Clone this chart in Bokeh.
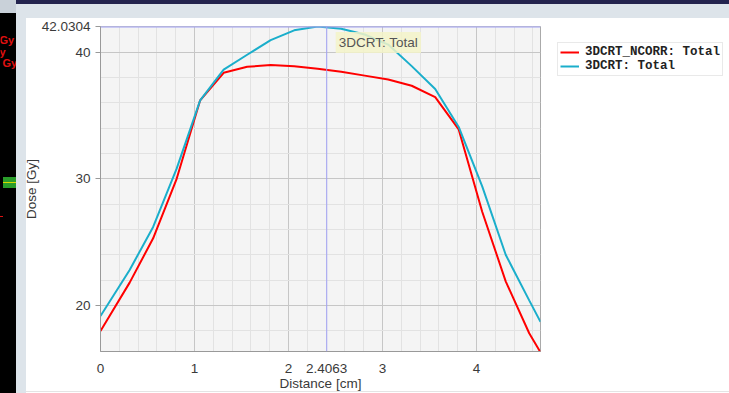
from bokeh.plotting import figure
from bokeh.models import (Range1d, FixedTicker, Span, Label, Legend, LegendItem)
from bokeh.layouts import row
from bokeh.embed import file_html
from bokeh.resources import INLINE

# ---- data ----
distance_cm = [0.0, 0.31, 0.56, 0.81, 1.06, 1.31, 1.56, 1.81, 2.06, 2.31,
               2.56, 2.81, 3.06, 3.31, 3.56, 3.81, 4.06, 4.31, 4.56, 4.68]
dose_ncorr = [17.98, 21.8, 25.3, 30.0, 36.2, 38.37, 38.85, 38.98, 38.9, 38.7,
              38.45, 38.15, 37.85, 37.35, 36.45, 33.9, 27.4, 21.9, 17.8, 16.3]
dose_3dcrt = [19.16, 22.8, 26.2, 30.8, 36.2, 38.63, 39.8, 40.95, 41.73, 42.03,
              41.85, 41.4, 40.6, 38.9, 37.1, 34.1, 29.4, 24.0, 20.4, 18.7]
series_names = ["3DCRT_NCORR: Total", "3DCRT: Total"]
series_colors = ["#ff0000", "#1aaecb"]
x_ticks = [0, 1, 2, 3, 4]
x_minor = [0.2, 0.4, 0.6, 0.8, 1.2, 1.4, 1.6, 1.8, 2.2, 2.4, 2.6, 2.8,
           3.2, 3.4, 3.6, 3.8, 4.2, 4.4, 4.6]
y_ticks = [20, 30, 40]
y_minor = [18, 22, 24, 26, 28, 32, 34, 36, 38, 42]
cross_x = 2.4063
cross_y = 42.0304
x_min, x_max = 0.0, 4.68
y_min = 16.36
side_texts = ["Gy", "y", "Gy"]   # clipped texts of the neighbouring panel

FONT = "Liberation Sans"
TXT = "#3a3a3a"


def grad(color, x, y, w, h):
    return f"linear-gradient({color},{color}) {x}px {y}px / {w}px {h}px no-repeat"


# window chrome shown behind the transparent canvas borders
chrome_strip = ", ".join([
    grad("#e01010", 0, 216, 3, 1),
    grad("#d8d800", 3, 182, 13, 1),
    grad("#2a9d2a", 3, 177, 13, 11),
    grad("#c9d1d9", 0, 0, 16, 13),
    "#000000",
])
chrome_main = ", ".join([
    grad("#23234e", 0, 0, 525, 4),
    grad("#dde4ea", 0, 4, 525, 14),
    grad("#dde4ea", 0, 18, 10, 375),
    grad("#e4e4e4", 10, 391, 515, 1),
    "#ffffff",
])
chrome_side = ", ".join([
    grad("#23234e", 0, 0, 188, 4),
    grad("#dde4ea", 0, 4, 188, 14),
    grad("#e4e4e4", 0, 391, 188, 1),
    "#ffffff",
])

# ---- narrow neighbouring strip on the left ----
s = figure(width=16, height=393, output_backend="svg", toolbar_location=None,
           x_range=Range1d(0, 16), y_range=Range1d(0, 1),
           x_axis_type=None, y_axis_type=None, min_border=0, margin=0,
           background_fill_alpha=0, border_fill_alpha=0, outline_line_color=None,
           styles={"background": chrome_strip})
s.grid.visible = False
for t, xx, yy in zip(side_texts, [-1, -1, 2], [39, 51, 62]):
    s.add_layout(Label(x=xx, y=yy, x_units="canvas", y_units="canvas", text=t,
                       text_baseline="middle", text_font=FONT,
                       text_font_style="bold", text_font_size="11px",
                       text_color="#e01010"))

# ---- main chart ----
p = figure(width=525, height=393, output_backend="svg", toolbar_location=None,
           x_range=Range1d(x_min, x_max), y_range=Range1d(y_min, cross_y),
           min_border_left=84, min_border_right=1, min_border_top=26,
           min_border_bottom=41, background_fill_color="#f4f4f4",
           border_fill_color="white", border_fill_alpha=0, margin=0,
           outline_line_color="#aaaaaa", styles={"background": chrome_main})

p.xaxis.ticker = FixedTicker(ticks=x_ticks + [cross_x], minor_ticks=x_minor)
p.yaxis.ticker = FixedTicker(ticks=y_ticks + [cross_y], minor_ticks=y_minor)
p.xaxis.major_label_overrides = {**{t: str(t) for t in x_ticks}, cross_x: f"{cross_x:.4f}"}
p.yaxis.major_label_overrides = {**{t: str(t) for t in y_ticks}, cross_y: f"{cross_y:.4f}"}

for ax in (p.xaxis[0], p.yaxis[0]):
    ax.axis_line_color = "#999999"
    ax.major_label_text_font = FONT
    ax.major_label_text_font_size = "13.5px"
    ax.major_label_text_color = TXT
    ax.axis_label_text_font = FONT
    ax.axis_label_text_font_size = "13.5px"
    ax.axis_label_text_font_style = "normal"
    ax.axis_label_text_color = TXT
    ax.minor_tick_line_color = None
    ax.major_tick_in = 0

p.xaxis.axis_label = "Distance [cm]"
p.xaxis.major_tick_out = 0
p.xaxis.major_label_standoff = 8
p.xaxis.axis_label_standoff = 0
p.yaxis.axis_label = "Dose [Gy]"
p.yaxis.major_tick_out = 5
p.yaxis.major_tick_line_color = "#999999"
p.yaxis.major_label_standoff = 5
p.yaxis.axis_label_standoff = 0

p.xgrid.ticker = FixedTicker(ticks=x_ticks, minor_ticks=x_minor)
p.ygrid.ticker = FixedTicker(ticks=y_ticks, minor_ticks=y_minor)
p.grid.grid_line_color = "#c6c6c6"
p.grid.minor_grid_line_color = "#e2e2e2"

p.line(distance_cm, dose_ncorr, line_color=series_colors[0], line_width=2)
p.line(distance_cm, dose_3dcrt, line_color=series_colors[1], line_width=2)

# crosshair
cross_col = "#a0a0f4"
p.add_layout(Span(location=cross_x, dimension="height", line_color=cross_col, line_width=1))
p.add_layout(Span(location=cross_y, dimension="width", line_color=cross_col, line_width=2))

p.add_layout(Label(x=cross_x, y=42, x_units="data", y_units="canvas", x_offset=9,
                   text=series_names[1], text_align="left", text_baseline="middle",
                   text_font=FONT, text_font_size="13.5px", text_color="#555555",
                   background_fill_color="#f3f3c8", background_fill_alpha=0.85, padding=3))

# ---- legend panel (same series; its ranges keep the lines out of view) ----
q = figure(width=188, height=393, output_backend="svg", toolbar_location=None,
           x_range=Range1d(100, 101), y_range=Range1d(100, 101),
           x_axis_type=None, y_axis_type=None, min_border=0, margin=0,
           background_fill_alpha=0, border_fill_alpha=0, outline_line_color=None,
           styles={"background": chrome_side})
q.grid.visible = False
l1 = q.line(distance_cm, dose_ncorr, line_color=series_colors[0], line_width=2)
l2 = q.line(distance_cm, dose_3dcrt, line_color=series_colors[1], line_width=2)

legend = Legend(items=[LegendItem(label=series_names[0], renderers=[l1]),
                       LegendItem(label=series_names[1], renderers=[l2])],
                location=(16, 275), label_text_font="Liberation Mono",
                label_text_font_style="bold", label_text_font_size="12.5px",
                label_text_color="#222222", label_height=14, glyph_height=14,
                glyph_width=19, label_standoff=6, padding=2, spacing=0,
                margin=0, border_line_color="#d4d4d4",
                background_fill_color="white", background_fill_alpha=1)
q.add_layout(legend)

page = row(s, p, q, spacing=0, margin=0)
open("out.html", "w").write(file_html(page, INLINE))
